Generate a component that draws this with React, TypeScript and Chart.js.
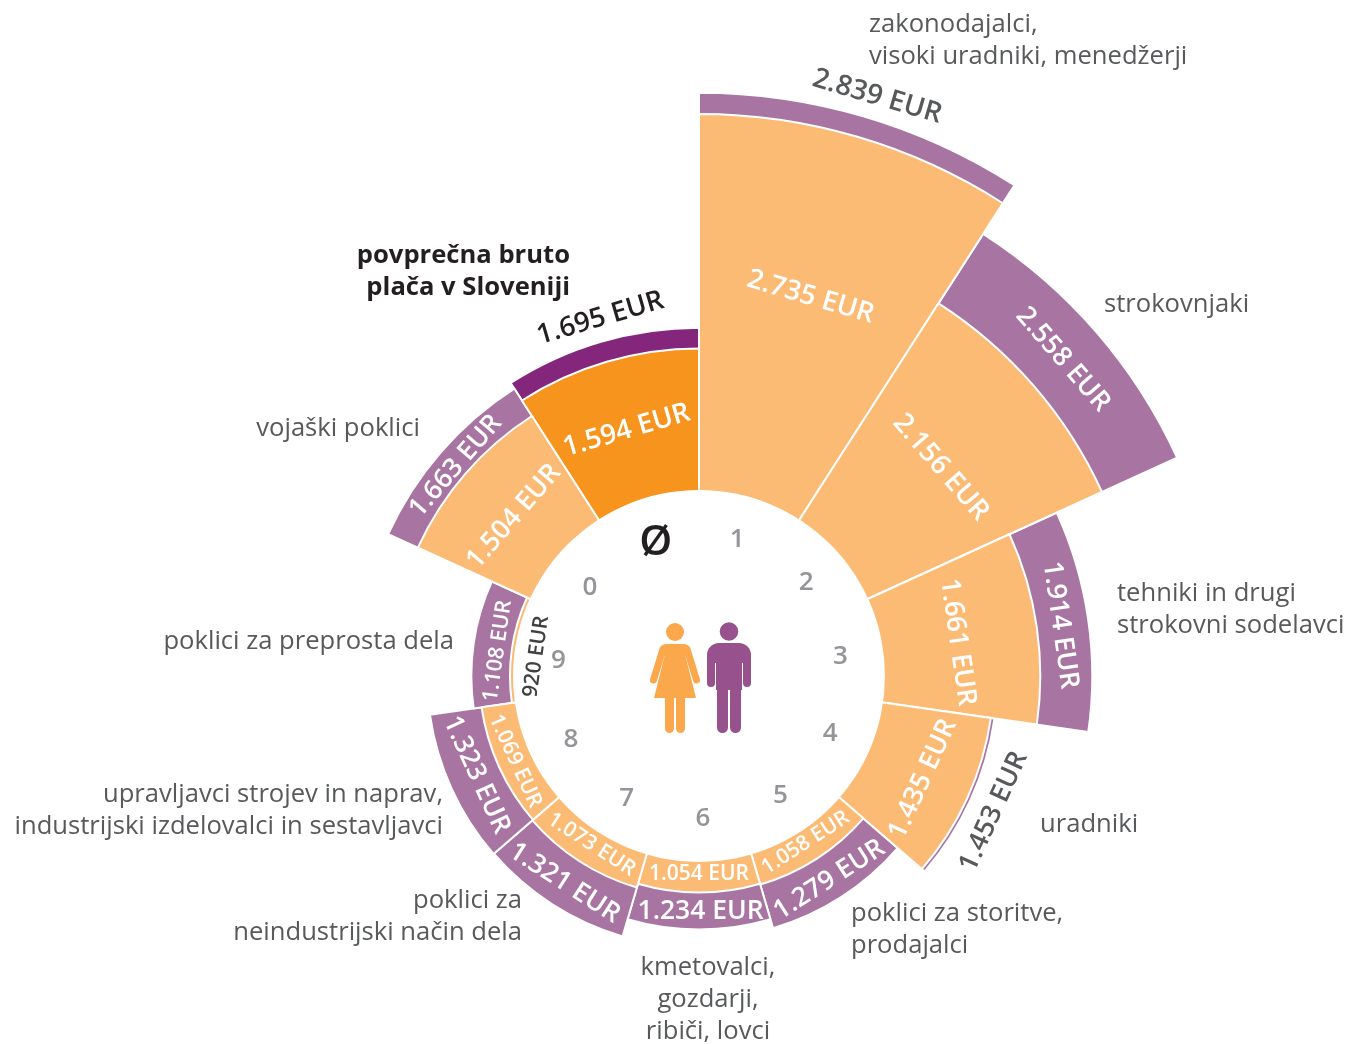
import React, { useEffect, useRef } from "react";
import { Chart, registerables } from "chart.js";

Chart.register(...registerables);

const categories = ["Ø", "1", "2", "3", "4", "5", "6", "7", "8", "9", "0"];
const femaleValues = [1594, 2735, 2156, 1661, 1435, 1058, 1054, 1073, 1069, 920, 1504];
const maleValues = [1695, 2839, 2558, 1914, 1453, 1279, 1234, 1321, 1323, 1108, 1663];
const holeValue = 905;

// label radii and type sizes (layout only)
const femaleLabelRadius = [257, 396, 320, 261, 246, 197, 197, 199, 202, 164, 245];
const femaleLabelSize = [27.5, 27.5, 27.5, 27, 27, 21, 21, 21, 21, 21, 27];
const femaleLabelTurn = [0, 0, 0, 0.5, 0, 0, 0, 0, 0, -1, 0];
const maleLabelRadius = [372, 607, 483, 365, 324, 241, 234, 246, 243, 203, 322];
const maleLabelSize = [27.5, 28, 27, 27, 27, 26.5, 26.5, 26.5, 26.5, 21.5, 26.5];
const maleLabelTurn = [1, 0.7, -0.2, 0, 0, 0, -0.4, 0.4, 0.8, -0.8, 0];
const maleLabelColor = ["#231f20", "#58595b", "#fff", "#fff", "#58595b", "#fff", "#fff", "#fff", "#fff", "#fff", "#fff"];
const femaleLabelColor = ["#fff", "#fff", "#fff", "#fff", "#fff", "#fff", "#fff", "#fff", "#fff", "#414042", "#fff"];
const digitNudge = [[-3, 3], [-2, 0], [-1, -1], [0, 0], [1, -3], [4, -2], [4, -1], [5, 1], [2, 3], [1, 4], [-1, 4]];

type Caption = { lines: string[]; x: number; y: number; align: CanvasTextAlign; bold?: boolean };
const captions: Caption[] = [
  { lines: ["zakonodajalci,", "visoki uradniki, menedžerji"], x: 869, y: 25, align: "left" },
  { lines: ["strokovnjaki"], x: 1104, y: 305, align: "left" },
  { lines: ["tehniki in drugi", "strokovni sodelavci"], x: 1117, y: 594, align: "left" },
  { lines: ["uradniki"], x: 1040, y: 825, align: "left" },
  { lines: ["poklici za storitve,", "prodajalci"], x: 851, y: 914, align: "left" },
  { lines: ["kmetovalci,", "gozdarji,", "ribiči, lovci"], x: 708, y: 968, align: "center" },
  { lines: ["poklici za", "neindustrijski način dela"], x: 522, y: 901, align: "right" },
  { lines: ["upravljavci strojev in naprav,", "industrijski izdelovalci in sestavljavci"], x: 443, y: 795, align: "right" },
  { lines: ["poklici za preprosta dela"], x: 454, y: 642, align: "right" },
  { lines: ["vojaški poklici"], x: 420, y: 429, align: "right" },
  { lines: ["povprečna bruto", "plača v Sloveniji"], x: 570, y: 256, align: "right", bold: true },
];

const FONT = '"Open Sans"';
const fmt = (v: number) =>
  v >= 1000 ? `${Math.floor(v / 1000)}.${String(v % 1000).padStart(3, "0")} EUR` : `${v} EUR`;

function drawPeople(ctx: CanvasRenderingContext2D, cx: number, cy: number) {
  ctx.save();
  ctx.translate(cx - 699, cy - 676);
  // woman
  const w = "#fba74b";
  ctx.fillStyle = w;
  ctx.strokeStyle = w;
  ctx.beginPath();
  ctx.arc(675, 632, 9, 0, Math.PI * 2);
  ctx.fill();
  ctx.lineCap = "round";
  ctx.lineWidth = 7;
  ctx.beginPath();
  ctx.moveTo(663, 649);
  ctx.lineTo(653.5, 680);
  ctx.moveTo(687, 649);
  ctx.lineTo(696.5, 680);
  ctx.stroke();
  ctx.beginPath();
  ctx.roundRect(660, 644, 30, 12, 7);
  ctx.fill();
  ctx.beginPath();
  ctx.moveTo(666, 650);
  ctx.lineTo(684, 650);
  ctx.lineTo(696, 698);
  ctx.lineTo(654, 698);
  ctx.closePath();
  ctx.fill();
  ctx.beginPath();
  ctx.roundRect(665, 695, 9, 38, [0, 0, 4.5, 4.5]);
  ctx.roundRect(676, 695, 9, 38, [0, 0, 4.5, 4.5]);
  ctx.fill();
  // man
  const m = "#97528e";
  ctx.fillStyle = m;
  ctx.beginPath();
  ctx.arc(729, 631.5, 9.3, 0, Math.PI * 2);
  ctx.fill();
  ctx.beginPath();
  ctx.roundRect(707, 643, 44, 20, [12, 12, 0, 0]);
  ctx.fill();
  ctx.beginPath();
  ctx.roundRect(707, 655, 8, 32, [0, 0, 4, 4]);
  ctx.roundRect(743, 655, 8, 32, [0, 0, 4, 4]);
  ctx.rect(716, 655, 26, 35);
  ctx.roundRect(717, 685, 11, 48, [0, 0, 5.5, 5.5]);
  ctx.roundRect(730, 685, 11, 48, [0, 0, 5.5, 5.5]);
  ctx.fill();
  ctx.restore();
}

const overlay = {
  id: "overlay",
  afterDatasetsDraw(chart: any) {
    const { ctx } = chart;
    const s = chart.scales.r;
    const cx = s.xCenter;
    const cy = s.yCenter;
    const labelCy = cy + 1;
    const step = 360 / categories.length;
    ctx.save();
    // inner hole
    ctx.fillStyle = "#fff";
    ctx.beginPath();
    ctx.arc(cx, cy, s.getDistanceFromCenterForValue(holeValue), 0, Math.PI * 2);
    ctx.fill();
    ctx.textBaseline = "middle";
    ctx.textAlign = "center";

    const rotated = (text: string, deg: number, turn: number, r: number, font: string, color: string) => {
      const a = ((deg + turn) * Math.PI) / 180;
      const norm = ((deg % 360) + 360) % 360;
      const rot = norm > 90 && norm < 270 ? norm - 180 : norm;
      ctx.save();
      ctx.translate(cx + r * Math.sin(a), labelCy - r * Math.cos(a));
      ctx.rotate((rot * Math.PI) / 180);
      ctx.font = font;
      ctx.fillStyle = color;
      ctx.fillText(text, 0, 0);
      ctx.restore();
    };

    categories.forEach((c, i) => {
      const deg = -step / 2 + i * step;
      rotated(fmt(femaleValues[i]), deg, femaleLabelTurn[i], femaleLabelRadius[i], `600 ${femaleLabelSize[i]}px ${FONT}`, femaleLabelColor[i]);
      rotated(fmt(maleValues[i]), deg, maleLabelTurn[i], maleLabelRadius[i], `600 ${maleLabelSize[i]}px ${FONT}`, maleLabelColor[i]);
      const a = (deg * Math.PI) / 180;
      ctx.font = i === 0 ? `600 42px ${FONT}` : `600 26px ${FONT}`;
      ctx.fillStyle = i === 0 ? "#231f20" : "#939598";
      ctx.fillText(c, cx + 143 * Math.sin(a) + digitNudge[i][0], labelCy - 143 * Math.cos(a) + digitNudge[i][1]);
    });

    captions.forEach((cap) => {
      ctx.textAlign = cap.align;
      ctx.fillStyle = cap.bold ? "#231f20" : "#58595b";
      ctx.font = `${cap.bold ? 700 : 400} 25.6px ${FONT}`;
      cap.lines.forEach((l, k) => ctx.fillText(l, cap.x, cap.y + k * 32));
    });
    drawPeople(ctx, cx, cy);
    ctx.restore();
  },
};

export default function App() {
  const ref = useRef<HTMLCanvasElement>(null);
  useEffect(() => {
    document.body.style.margin = "0";
    const chart = new Chart(ref.current!, {
      type: "polarArea",
      data: {
        labels: categories,
        datasets: [
          {
            label: "ženske",
            data: femaleValues,
            backgroundColor: femaleValues.map((_, i) => (i === 0 ? "#f7941e" : "#fcbb75")),
            borderColor: "#fff",
            borderWidth: 2,
            clip: false,
          },
          {
            label: "moški",
            data: maleValues,
            backgroundColor: maleValues.map((_, i) => (i === 0 ? "#84277c" : "#a874a2")),
            borderColor: "#fff",
            borderWidth: 2,
            clip: false,
          },
        ],
      } as any,
      options: {
        animation: false,
        responsive: false,
        layout: { padding: { left: 52, top: 308 } },
        plugins: { legend: { display: false }, tooltip: { enabled: false } },
        scales: {
          r: {
            display: false,
            min: 0,
            max: 1791,
            startAngle: -360 / categories.length,
          },
        },
      } as any,
      plugins: [overlay],
    });
    return () => chart.destroy();
  }, []);
  return <canvas ref={ref} width={1346} height={1044} style={{ display: "block" }} />;
}
